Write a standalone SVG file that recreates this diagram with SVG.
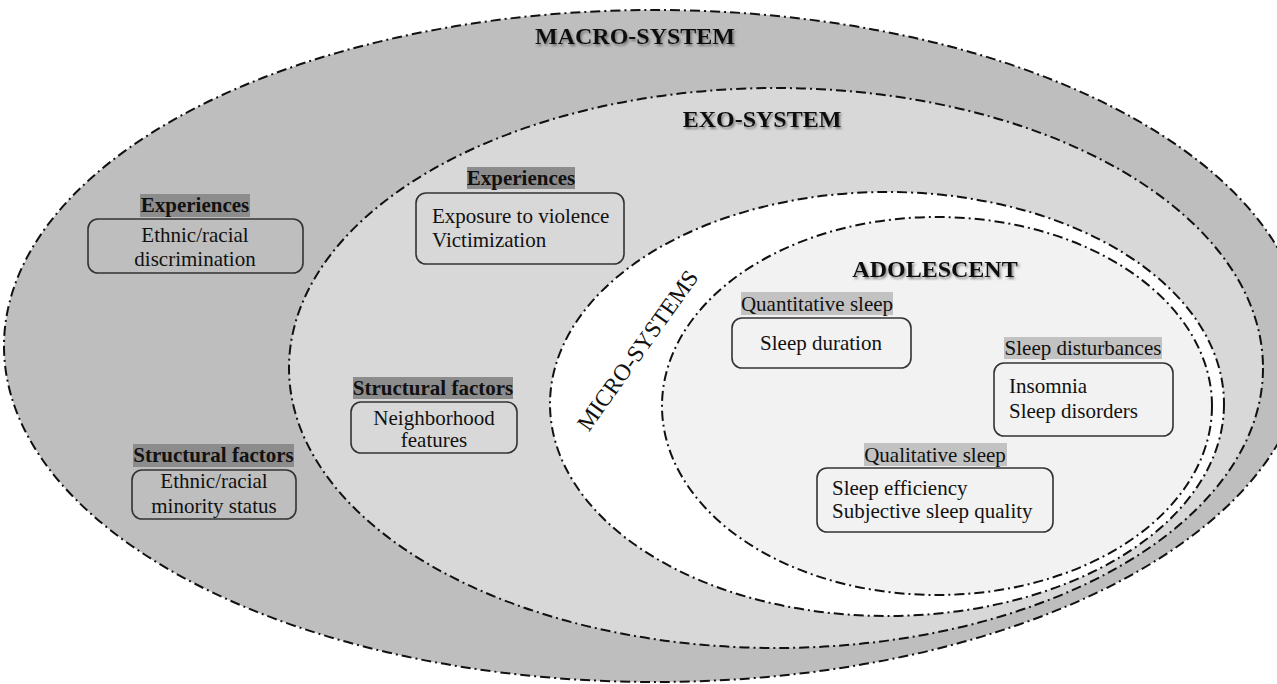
<svg xmlns="http://www.w3.org/2000/svg" width="1277" height="684" viewBox="0 0 1277 684">
<defs>
<filter id="sh" x="-10%" y="-30%" width="120%" height="160%">
<feDropShadow dx="1.5" dy="2" stdDeviation="1.2" flood-color="#555" flood-opacity="0.7"/>
</filter>
<style>
.ring{stroke:#111;stroke-width:2;stroke-dasharray:10 4 2 4;}
.box{fill:none;stroke:#333;stroke-width:1.6;}
.t{font-family:"Liberation Serif","Times New Roman",serif;font-size:21px;fill:#111;}
.b{font-weight:bold;}
.h{font-family:"Liberation Serif","Times New Roman",serif;font-size:24px;font-weight:bold;fill:#111;filter:url(#sh);}
.mid{text-anchor:middle;}
.dk{fill:#8c8c8c;}
.lt{fill:#c2c2c2;}
</style>
</defs>
<rect width="1277" height="684" fill="#fff"/>
<g id="macro-system">
<ellipse class="ring" cx="655" cy="346" rx="651" ry="336" fill="#bebebe"/>
<text class="h mid" x="635" y="44">MACRO-SYSTEM</text>
</g>
<g id="exo-system">
<ellipse class="ring" cx="776" cy="368" rx="487" ry="280" fill="#d8d8d8"/>
<text class="h mid" x="762" y="127">EXO-SYSTEM</text>
</g>
<g id="micro-systems">
<ellipse class="ring" cx="887" cy="404" rx="337" ry="212" fill="#fff"/>
<text class="t mid" style="font-size:23.5px" transform="translate(644,355) rotate(-54.5)">MICRO-SYSTEMS</text>
</g>
<g id="adolescent">
<ellipse class="ring" cx="937" cy="406" rx="275" ry="189" fill="#f2f2f2"/>
<text class="h mid" x="935" y="277">ADOLESCENT</text>
</g>
<g id="macro-experiences">
<rect class="dk" x="140" y="194" width="110" height="23"/>
<text class="t b mid" x="195" y="212">Experiences</text>
<rect class="box" x="88" y="219" width="215" height="54" rx="10"/>
<text class="t mid" x="195" y="242">Ethnic/racial</text>
<text class="t mid" x="195" y="266">discrimination</text>
</g>
<g id="macro-structural">
<rect class="dk" x="133" y="444" width="161" height="23"/>
<text class="t b mid" x="213.5" y="462">Structural factors</text>
<rect class="box" x="132" y="470" width="164" height="49" rx="10"/>
<text class="t mid" x="214" y="488">Ethnic/racial</text>
<text class="t mid" x="214" y="513">minority status</text>
</g>
<g id="exo-experiences">
<rect class="dk" x="467" y="167" width="108" height="22"/>
<text class="t b mid" x="521" y="185">Experiences</text>
<rect class="box" x="416" y="193" width="208" height="71" rx="10"/>
<text class="t" x="432" y="223">Exposure to violence</text>
<text class="t" x="432" y="247">Victimization</text>
</g>
<g id="exo-structural">
<rect class="dk" x="353" y="377" width="160" height="22"/>
<text class="t b mid" x="433" y="395">Structural factors</text>
<rect class="box" x="351" y="402" width="166" height="51" rx="10"/>
<text class="t mid" x="434" y="425">Neighborhood</text>
<text class="t mid" x="434" y="447">features</text>
</g>
<g id="quantitative-sleep">
<rect class="lt" x="741" y="292" width="152" height="23"/>
<text class="t mid" x="817" y="311">Quantitative sleep</text>
<rect class="box" x="732" y="318" width="179" height="50" rx="10"/>
<text class="t mid" x="821" y="350">Sleep duration</text>
</g>
<g id="sleep-disturbances">
<rect class="lt" x="1004" y="337" width="158" height="22"/>
<text class="t mid" x="1083" y="355">Sleep disturbances</text>
<rect class="box" x="994" y="363" width="179" height="73" rx="10"/>
<text class="t" x="1009" y="393">Insomnia</text>
<text class="t" x="1009" y="418">Sleep disorders</text>
</g>
<g id="qualitative-sleep">
<rect class="lt" x="864" y="443" width="143" height="23"/>
<text class="t mid" x="935" y="462">Qualitative sleep</text>
<rect class="box" x="817" y="468" width="236" height="64" rx="10"/>
<text class="t" x="832" y="495">Sleep efficiency</text>
<text class="t" x="832" y="518">Subjective sleep quality</text>
</g>
<g id="connectors"></g>
</svg>
